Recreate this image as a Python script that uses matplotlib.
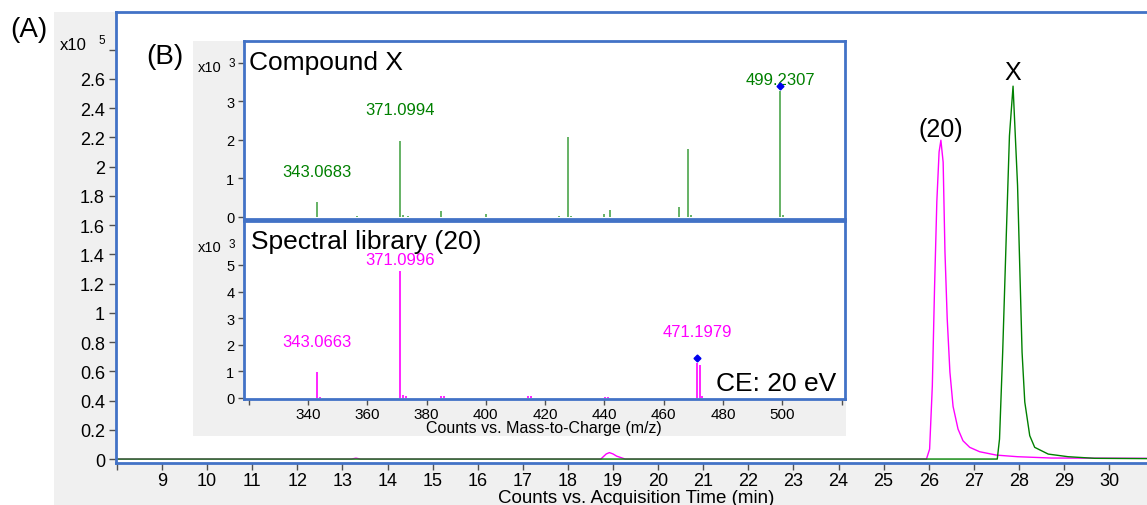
import matplotlib
matplotlib.use("Agg")
import matplotlib.pyplot as plt
from matplotlib.patches import Rectangle

plt.rcParams['font.family'] = ['Liberation Sans', 'DejaVu Sans']

# ---------------- data ----------------
# Chromatogram (A): time (min) vs counts (x10^5)
green_t = [7.98, 27.52, 27.57, 27.64, 27.72, 27.79, 27.87, 27.92, 27.97, 28.02,
           28.07, 28.13, 28.24, 28.35, 28.65, 29.09, 29.68, 30.84]
green_i = [0.0, 0.0, 0.137, 0.73, 1.53, 2.21, 2.55, 2.21, 1.87, 1.30,
           0.73, 0.39, 0.16, 0.08, 0.034, 0.016, 0.005, 0.003]

pink_t = [7.98, 13.2, 13.3, 13.4, 18.73, 18.85, 18.92, 19.0, 19.08, 19.27,
          25.95, 26.02, 26.08, 26.13, 26.18, 26.23, 26.27, 26.32, 26.36, 26.41,
          26.47, 26.54, 26.65, 26.76, 26.91, 27.13, 27.50, 27.97, 28.72, 30.84]
pink_i = [0.0, 0.0, 0.006, 0.0, 0.0, 0.035, 0.044, 0.035, 0.02, 0.0,
          0.0, 0.068, 0.50, 1.18, 1.76, 2.10, 2.18, 2.03, 1.42, 0.96,
          0.595, 0.36, 0.205, 0.125, 0.08, 0.05, 0.027, 0.016, 0.007, 0.005]

peak_names = ["(20)", "X"]
peak_name_pos = [(26.27, 2.257), (27.87, 2.65)]

main_yticks = [0, 0.2, 0.4, 0.6, 0.8, 1.0, 1.2, 1.4, 1.6, 1.8, 2.0, 2.2, 2.4, 2.6, 2.8]
main_ylabels = ["0", "0.2", "0.4", "0.6", "0.8", "1", "1.2", "1.4", "1.6", "1.8",
                "2", "2.2", "2.4", "2.6", ""]
main_xticks = list(range(8, 31))
main_xlabels = [""] + [str(v) for v in range(9, 31)]

# Spectrum (B) top: Compound X, counts x10^3
top_mz = [343.07, 356.6, 371.10, 372.1, 373.8, 384.9, 400.1, 424.7, 427.7, 428.7,
          439.9, 441.9, 465.2, 468.2, 469.2, 499.23, 500.2]
top_int = [0.39, 0.03, 1.97, 0.04, 0.03, 0.16, 0.08, 0.02, 2.08, 0.03,
           0.08, 0.19, 0.25, 1.76, 0.04, 3.28, 0.05]
top_labels = ["343.0683", "371.0994", "499.2307"]
top_label_pos = [(343.07, 1.18), (371.10, 2.78), (499.23, 3.56)]
top_precursor = (499.23, 3.39)

# Spectrum (B) bottom: Spectral library (20), counts x10^3
bot_mz = [343.07, 344.0, 371.10, 372.1, 373.0, 385.0, 386.0, 414.2, 415.2,
          440.2, 441.2, 471.20, 472.2, 473.0]
bot_int = [0.98, 0.03, 4.77, 0.10, 0.08, 0.06, 0.06, 0.06, 0.06,
           0.05, 0.05, 1.30, 1.24, 0.06]
bot_labels = ["343.0663", "371.0996", "471.1979"]
bot_label_pos = [(343.07, 2.12), (371.10, 5.19), (471.20, 2.48)]
bot_precursor = (471.20, 1.50)

top_yticks = [0, 1, 2, 3, 4]
top_ylabels = ["0", "1", "2", "3", ""]
bot_yticks = [0, 1, 2, 3, 4, 5]
bot_ylabels = ["0", "1", "2", "3", "4", "5"]
ms_xticks = [320, 340, 360, 380, 400, 420, 440, 460, 480, 500, 520]
ms_xlabels = ["", "340", "360", "380", "400", "420", "440", "460", "480", "500", ""]

# ---------------- style ----------------
W, H = 1147, 506
BLUE = '#4272c6'
TICK = '#505050'
GREEN = '#008000'
MAG = '#ff00ff'
GREY = '#f0f0f0'


def fx(px):
    return px / W


def fy(py):
    return 1 - py / H


fig = plt.figure(figsize=(W / 100, H / 100), dpi=100)
fig.patch.set_facecolor('white')

# grey panel behind main chart
fig.add_artist(Rectangle((fx(54), 0), fx(1147) - fx(54), fy(13), transform=fig.transFigure,
                         facecolor=GREY, edgecolor='none', zorder=0))

ax = fig.add_axes([fx(116), fy(464), fx(1147 - 116), (464 - 13) / H], zorder=1)
ax.set_facecolor('white')
ax.plot(pink_t, pink_i, color=MAG, lw=1.0)
ax.plot(green_t, green_i, color=GREEN, lw=1.0)
ax.set_xlim(7.98, 30.84)
ax.set_ylim(-0.027, 3.057)
ax.set_yticks(main_yticks, main_ylabels)
ax.set_xticks(main_xticks, main_xlabels)
ax.tick_params(axis='both', colors=TICK, labelcolor='black', labelsize=13,
               direction='out', length=5, width=1, pad=3)
ax.tick_params(axis='x', pad=1.5)
for s in ['left', 'top', 'bottom']:
    ax.spines[s].set_color(BLUE)
    ax.spines[s].set_linewidth(2)
ax.spines['right'].set_visible(False)
for name, (tx, ty) in zip(peak_names, peak_name_pos):
    ax.text(tx, ty, name, ha='center', va='center', fontsize=18)

fig.text(fx(60), fy(45), "x10", fontsize=12, ha='left', va='center')
fig.text(fx(98), fy(41), "5", fontsize=8.5, ha='left', va='center')
fig.text(fx(10), fy(30), "(A)", fontsize=20, ha='left', va='center')
fig.text(fx(636), fy(498.5), "Counts vs. Acquisition Time (min)", fontsize=13.5,
         ha='center', va='center')

# grey panel behind inset
fig.add_artist(Rectangle((fx(193), fy(437)), fx(846 - 193), (437 - 42) / H,
                         transform=fig.transFigure, facecolor=GREY, edgecolor='none', zorder=2))
fig.text(fx(146), fy(57), "(B)", fontsize=20, ha='left', va='center', zorder=5)

ax1 = fig.add_axes([fx(244), fy(219.5), fx(845 - 244), 177.5 / H], zorder=3)
ax2 = fig.add_axes([fx(244), fy(400), fx(845 - 244), 178 / H], zorder=3)

for a in (ax1, ax2):
    a.set_facecolor('white')
    a.set_xlim(318.45, 521.1)
    for s in a.spines.values():
        s.set_color(BLUE)
        s.set_linewidth(2)
    a.tick_params(axis='both', colors=TICK, labelcolor='black', direction='out',
                  length=4, width=1, pad=3)

ax1.vlines(top_mz, 0, top_int, color=GREEN, lw=1.2, alpha=0.7)
ax1.plot([top_precursor[0]], [top_precursor[1]], marker='D', ms=3.5, color='#0000ee', zorder=5)
for lab, (lx, ly) in zip(top_labels, top_label_pos):
    ax1.text(lx, ly, lab, color=GREEN, fontsize=12, ha='center', va='center')
ax1.set_ylim(-0.04, 4.57)
ax1.set_yticks(top_yticks, top_ylabels)
ax1.tick_params(axis='y', labelsize=10.5)
ax1.set_xticks([])
ax1.text(0.008, 0.88, "Compound X", transform=ax1.transAxes, fontsize=19, ha='left', va='center')

ax2.vlines(bot_mz, 0, bot_int, color=MAG, lw=1.2)
ax2.plot([bot_precursor[0]], [bot_precursor[1]], marker='D', ms=3.5, color='#0000ee', zorder=5)
for lab, (lx, ly) in zip(bot_labels, bot_label_pos):
    ax2.text(lx, ly, lab, color=MAG, fontsize=12, ha='center', va='center')
ax2.set_ylim(-0.04, 6.65)
ax2.set_yticks(bot_yticks, bot_ylabels)
ax2.set_xticks(ms_xticks, ms_xlabels)
ax2.tick_params(axis='y', labelsize=10.5)
ax2.tick_params(axis='x', labelsize=11, pad=1.5)
ax2.text(0.012, 0.885, "Spectral library (20)", transform=ax2.transAxes, fontsize=19,
         ha='left', va='center')
ax2.text(0.985, 0.09, "CE: 20 eV", transform=ax2.transAxes, fontsize=19, ha='right', va='center')

fig.text(fx(198), fy(67.5), "x10", fontsize=10.5, ha='left', va='center', zorder=5)
fig.text(fx(229), fy(64), "3", fontsize=8.5, ha='left', va='center', zorder=5)
fig.text(fx(198), fy(248.5), "x10", fontsize=10.5, ha='left', va='center', zorder=5)
fig.text(fx(229), fy(245), "3", fontsize=8.5, ha='left', va='center', zorder=5)
fig.text(fx(544), fy(428.5), "Counts vs. Mass-to-Charge (m/z)", fontsize=11.5,
         ha='center', va='center', zorder=5)

fig.savefig("out.png", dpi=100)
